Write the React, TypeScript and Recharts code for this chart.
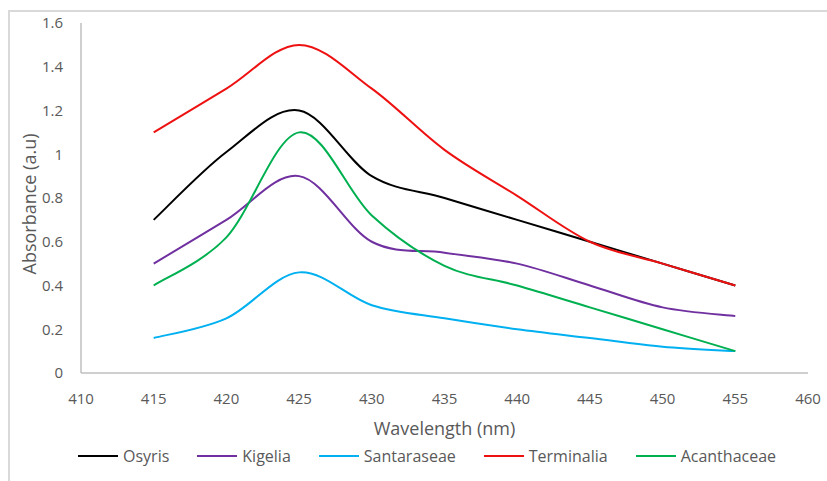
import React from 'react';
import { LineChart, Line, XAxis, YAxis, Legend } from 'recharts';

const wavelengths = [415, 420, 425, 430, 435, 440, 445, 450, 455];
const osyris = [0.7, 1.01, 1.2, 0.9, 0.8, 0.7, 0.6, 0.5, 0.4];
const kigelia = [0.5, 0.7, 0.9, 0.6, 0.55, 0.5, 0.4, 0.3, 0.26];
const santaraseae = [0.16, 0.25, 0.46, 0.31, 0.25, 0.2, 0.16, 0.12, 0.1];
const terminalia = [1.1, 1.3, 1.5, 1.3, 1.02, 0.81, 0.6, 0.5, 0.4];
const acanthaceae = [0.4, 0.62, 1.1, 0.72, 0.49, 0.4, 0.3, 0.2, 0.1];
const xTicks = [410, 415, 420, 425, 430, 435, 440, 445, 450, 455, 460];
const yTicks = [0, 0.2, 0.4, 0.6, 0.8, 1, 1.2, 1.4, 1.6];

const seriesNames = ['Osyris', 'Kigelia', 'Santaraseae', 'Terminalia', 'Acanthaceae'];
const seriesValues = [osyris, kigelia, santaraseae, terminalia, acanthaceae];
const seriesColors = ['#000000', '#7030A0', '#00B0F0', '#EE1111', '#00B050'];

const data = wavelengths.map((w, i) => {
  const row: any = { x: w };
  seriesNames.forEach((n, k) => { row[n] = seriesValues[k][i]; });
  return row;
});

const excelSmooth = (context: any) => {
  let pts: number[][] = [];
  return {
    areaStart() {},
    areaEnd() {},
    lineStart() { pts = []; },
    point(x: number, y: number) { pts.push([+x, +y]); },
    lineEnd() {
      if (!pts.length) return;
      context.moveTo(pts[0][0], pts[0][1]);
      for (let i = 0; i < pts.length - 1; i++) {
        const p0 = pts[i - 1] || pts[i];
        const p1 = pts[i];
        const p2 = pts[i + 1];
        const p3 = pts[i + 2] || p2;
        context.bezierCurveTo(
          p1[0] + (p2[0] - p0[0]) / 6, p1[1] + (p2[1] - p0[1]) / 6,
          p2[0] - (p3[0] - p1[0]) / 6, p2[1] - (p3[1] - p1[1]) / 6,
          p2[0], p2[1]
        );
      }
    },
  };
};

const FONT = 'Open Sans, Lato, sans-serif';
const GRAY = '#595959';

const LegendContent = () => (
  <div style={{ display: 'flex', alignItems: 'center', fontFamily: FONT, fontSize: 16, color: GRAY, paddingLeft: 78 }}>
    {seriesNames.map((n, k) => (
      <div key={n} style={{ display: 'flex', alignItems: 'center', marginRight: 28 }}>
        <svg width={40} height={4} style={{ marginRight: 5 }}>
          <line x1={0} y1={2} x2={40} y2={2} stroke={seriesColors[k]} strokeWidth={2} />
        </svg>
        <span>{n}</span>
      </div>
    ))}
  </div>
);

export default function App() {
  return (
    <div style={{ position: 'absolute', left: 0, top: 0, width: 827, height: 481, background: '#fff', overflow: 'hidden' }}>
      <div style={{ position: 'absolute', left: 8, top: 10, width: 830, height: 480, borderTop: '2px solid #d9d9d9', borderLeft: '2px solid #d9d9d9' }} />
      <LineChart
        width={827}
        height={481}
        data={data}
        margin={{ top: 23, right: 19, left: 31, bottom: 0 }}
        style={{ position: 'absolute', left: 0, top: 0 }}
      >
        <XAxis
          dataKey="x"
          type="number"
          domain={[410, 460]}
          ticks={xTicks}
          tickLine={false}
          axisLine={{ stroke: '#bfbfbf', strokeWidth: 1.5 }}
          tick={{ fill: GRAY, fontSize: 15, fontFamily: FONT }}
          tickMargin={14}
          height={72}
          label={{ value: 'Wavelength (nm)', position: 'insideBottom', offset: 10, fill: GRAY, fontSize: 18, fontFamily: FONT }}
        />
        <YAxis
          type="number"
          domain={[0, 1.6]}
          ticks={yTicks}
          tickLine={false}
          axisLine={{ stroke: '#bfbfbf', strokeWidth: 1.5 }}
          tick={{ fill: GRAY, fontSize: 15, fontFamily: FONT }}
          tickFormatter={(v: number) => String(Math.round(v * 10) / 10)}
          tickMargin={12}
          width={50}
          label={{ value: 'Absorbance (a.u)', angle: -90, position: 'insideLeft', offset: -1, dy: 6, fill: GRAY, fontSize: 18, fontFamily: FONT, style: { textAnchor: 'middle' } }}
        />
        <Legend verticalAlign="bottom" height={36} wrapperStyle={{ left: 0, width: 827 }} content={<LegendContent />} />
        {seriesNames.map((n, k) => (
          <Line
            key={n}
            dataKey={n}
            type={excelSmooth as any}
            stroke={seriesColors[k]}
            strokeWidth={2}
            dot={false}
            isAnimationActive={false}
          />
        ))}
      </LineChart>
    </div>
  );
}
